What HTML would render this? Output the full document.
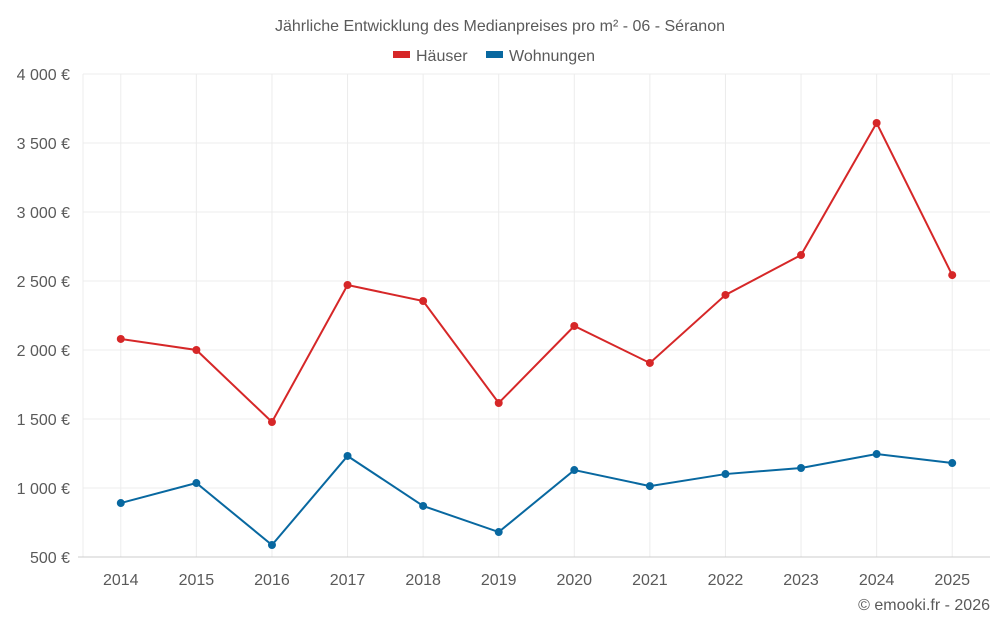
<!DOCTYPE html>
<html><head><meta charset="utf-8"><style>
body{margin:0;background:#fff;font-family:"Liberation Sans",sans-serif;}
svg text{font-family:"Liberation Sans",sans-serif;fill:#5a5a5a;}
</style></head><body>
<svg id="chart" width="1000" height="625">
<text x="500" y="31" text-anchor="middle" font-size="16">Jährliche Entwicklung des Medianpreises pro m² - 06 - Séranon</text>
<g>
<rect x="393" y="51" width="17" height="7" fill="#d62728"/>
<text x="416" y="61" font-size="16">Häuser</text>
<rect x="486" y="51" width="17" height="7" fill="#0868a0"/>
<text x="509" y="61" font-size="16">Wohnungen</text>
</g>
<g id="grid"></g><g id="axes"></g><g id="series"></g>
<text x="990" y="610" text-anchor="end" font-size="16">© emooki.fr - 2026</text>
</svg>
<script>
const years=["2014","2015","2016","2017","2018","2019","2020","2021","2022","2023","2024","2025"];
const haeuser=[2080,2000,1478,2471,2355,1616,2174,1906,2399,2688,3645,2543];
const wohnungen=[891,1036,587,1232,870,681,1130,1014,1101,1145,1246,1181];
const yTicks=[500,1000,1500,2000,2500,3000,3500,4000];
const yTickLabels=["500 €","1 000 €","1 500 €","2 000 €","2 500 €","3 000 €","3 500 €","4 000 €"];
const NS="http://www.w3.org/2000/svg";
const L=83,R=990,T=74,B=557;
const step=(R-L)/years.length;
function x(i){return L+step*(i+0.5);}
function y(v){return B-(v-500)/3500*(B-T);}
function mk(p,tag,a){const e=document.createElementNS(NS,tag);for(const k in a)e.setAttribute(k,a[k]);p.appendChild(e);return e;}
const grid=document.getElementById('grid'),axes=document.getElementById('axes'),ser=document.getElementById('series');
const lb=mk(grid,'line',{x1:L,x2:L,y1:T,y2:B,stroke:'#ececec'});


years.forEach((yr,i)=>{
 const l=mk(grid,'line',{x1:x(i),x2:x(i),y1:T,y2:B,stroke:'#ececec'});
 
 
});
yTicks.forEach((t,i)=>{
 const l=mk(grid,'line',{x1:i==0?78:L,x2:R,y1:y(t),y2:y(t),stroke:i==0?'#ccc':'#ececec'});
 
 
 const tx=mk(axes,'text',{x:70,y:y(t)+6,'text-anchor':'end','font-size':16});
 tx.textContent=yTickLabels[i];
 
 
});
years.forEach((yr,i)=>{
 const tx=mk(axes,'text',{x:x(i),y:585,'text-anchor':'middle','font-size':16});
 tx.textContent=yr;
 
 
});
function series(vals,color,name){
 const pl=mk(ser,'polyline',{points:vals.map((v,i)=>x(i)+','+y(v)).join(' '),fill:'none',stroke:color,'stroke-width':2});
 
 
 vals.forEach((v,i)=>{
  const c=mk(ser,'circle',{cx:x(i),cy:y(v),r:4,fill:color});
  
  
 });
}
series(haeuser,'#d62728','haeuser');
series(wohnungen,'#0868a0','wohnungen');
</script>
</body></html>
